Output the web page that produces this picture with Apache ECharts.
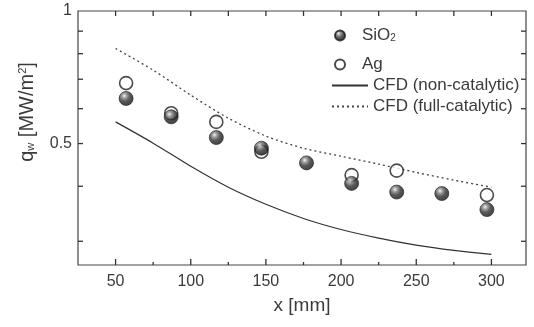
<!DOCTYPE html>
<html>
<head>
<meta charset="utf-8">
<script src="https://cdn.jsdelivr.net/npm/echarts@6/dist/echarts.min.js"></script>
<style>html,body{margin:0;padding:0;background:#fff;}#c{width:534px;height:327px;}</style>
</head>
<body>
<div id="c"></div>
<script>
// ---- data ----
const xTicksMajor = [50, 100, 150, 200, 250, 300];
const xTicksMinor = [75, 125, 175, 225, 275];
const yTicks = [0.9, 0.8, 0.7, 0.6, 0.5, 0.4, 0.3];
const yLabels = [1, 0.5];

const sio2X = [57, 87, 117, 147, 177, 207, 237, 267, 297];
const sio2Y = [0.633, 0.575, 0.516, 0.488, 0.452, 0.406, 0.388, 0.385, 0.354];
const agX = [57, 87, 117, 147, 207, 237, 297];
const agY = [0.686, 0.586, 0.560, 0.479, 0.424, 0.434, 0.382];
const cfdX = [50, 75, 100, 125, 150, 175, 200, 225, 250, 275, 300];
const cfdNonCat = [0.560, 0.501, 0.444, 0.398, 0.364, 0.338, 0.319, 0.305, 0.294, 0.286, 0.280];
const cfdFullCat = [0.822, 0.734, 0.644, 0.571, 0.520, 0.488, 0.468, 0.449, 0.430, 0.413, 0.398];

const X_MIN = 25, X_MAX = 323, Y_MIN = 0.265, Y_MAX = 1;

const FONT = '"Liberation Sans", Arial, sans-serif';
const TXT = '#3a3a3a';
const AX = '#333';

const zip = (xs, ys) => xs.map((x, i) => [x, ys[i]]);

const chart = echarts.init(document.getElementById('c'));
const sphere = {
  type: 'radial', x: 0.38, y: 0.32, r: 0.7,
  colorStops: [
    {offset: 0, color: '#f2f2f2'},
    {offset: 0.22, color: '#8a8a8a'},
    {offset: 0.55, color: '#2e2e2e'},
    {offset: 1, color: '#111'}
  ]
};

const yTitle = {
  id: 'ytitle', type: 'text', x: 27, y: 112, rotation: Math.PI / 2,
  style: {
    text: 'q{sub|w} [MW/m{sup|2}]', fill: TXT, font: '20px ' + FONT,
    textAlign: 'center', textVerticalAlign: 'middle',
    rich: {
      sub: {fontSize: 11, fontFamily: FONT, fill: TXT, padding: [8, 0, 0, 0]},
      sup: {fontSize: 11, fontFamily: FONT, fill: TXT, padding: [0, 0, 9, 0]}
    }
  }
};

chart.setOption({
  animation: false,
  grid: {left: 78, right: 8, top: 11, bottom: 62, show: true, borderColor: '#444', borderWidth: 1.2,
    backgroundColor: 'transparent'},
  xAxis: {type: 'value', min: X_MIN, max: X_MAX,
    axisLine: {show: false}, splitLine: {show: false}, axisTick: {show: false},
    axisLabel: {show: true, customValues: xTicksMajor, fontSize: 16, color: TXT, margin: 9, fontFamily: FONT},
    name: 'x [mm]', nameLocation: 'middle', nameGap: 31,
    nameTextStyle: {fontSize: 19, color: TXT, fontFamily: FONT}},
  yAxis: {type: 'log', logBase: 10, min: Y_MIN, max: Y_MAX,
    axisLine: {show: false}, splitLine: {show: false}, axisTick: {show: false},
    axisLabel: {show: true, customValues: yLabels, fontSize: 16, color: TXT, margin: 6, fontFamily: FONT,
      formatter: v => String(+(+v).toFixed(2))}},
  legend: [
    {data: ['SiO2', 'Ag'], orient: 'vertical', left: 329, top: 22, itemWidth: 34, itemHeight: 10,
      itemGap: 12, selectedMode: false,
      formatter: n => n === 'SiO2' ? 'SiO{sub|2}' : n,
      textStyle: {fontSize: 17, color: TXT, fontFamily: FONT, lineHeight: 16,
        rich: {sub: {fontSize: 10, color: TXT, fontFamily: FONT, verticalAlign: 'bottom', lineHeight: 10, padding: [6, 0, 0, 0]}}}},
    {data: ['CFD (non-catalytic)', 'CFD (full-catalytic)'], orient: 'vertical', left: 326, top: 72,
      itemWidth: 36, itemHeight: 10, itemGap: 4, selectedMode: false,
      itemStyle: {color: 'rgba(0,0,0,0)', borderColor: 'rgba(0,0,0,0)', borderWidth: 0},
      textStyle: {fontSize: 17, color: TXT, fontFamily: FONT, lineHeight: 16}}
  ],
  graphic: [yTitle],
  series: [
    {name: 'CFD (non-catalytic)', type: 'line', data: zip(cfdX, cfdNonCat), smooth: 0.3,
      showSymbol: false, symbol: 'none', lineStyle: {color: '#333', width: 1.2}, itemStyle: {color: '#333'}, z: 2},
    {name: 'CFD (full-catalytic)', type: 'line', data: zip(cfdX, cfdFullCat), smooth: 0.3,
      showSymbol: false, symbol: 'none', lineStyle: {color: '#444', width: 1.3, type: [2, 3]}, itemStyle: {color: '#444'}, z: 2},
    {name: 'Ag', type: 'scatter', data: zip(agX, agY), symbol: 'circle', symbolSize: 13,
      itemStyle: {color: '#fff', borderColor: '#1e1e1e', borderWidth: 1.6}, z: 3},
    {name: 'SiO2', type: 'scatter', data: zip(sio2X, sio2Y), symbol: 'circle', symbolSize: 14,
      itemStyle: {color: sphere, borderColor: '#1a1a1a', borderWidth: 0.8}, z: 4}
  ]
});

// tick marks on all four sides, positioned through the axes' own scales
const bl = chart.convertToPixel({gridIndex: 0}, [X_MIN, Y_MIN]);
const tr = chart.convertToPixel({gridIndex: 0}, [X_MAX, Y_MAX]);
const ticks = [];
const seg = (id, x1, y1, x2, y2) => ticks.push({
  id: id, type: 'line', z: 50, silent: true,
  shape: {x1: x1, y1: y1, x2: x2, y2: y2}, style: {stroke: AX, lineWidth: 1.3}
});
xTicksMajor.forEach((v, i) => {
  const x = chart.convertToPixel({xAxisIndex: 0}, v);
  seg('xb' + i, x, bl[1], x, bl[1] - 6);
  seg('xt' + i, x, tr[1], x, tr[1] + 5);
});
xTicksMinor.forEach((v, i) => {
  const x = chart.convertToPixel({xAxisIndex: 0}, v);
  seg('mb' + i, x, bl[1], x, bl[1] - 3);
  seg('mt' + i, x, tr[1], x, tr[1] + 5);
});
yTicks.forEach((v, i) => {
  const y = chart.convertToPixel({yAxisIndex: 0}, v);
  seg('yl' + i, bl[0], y, bl[0] + 5, y);
  seg('yr' + i, tr[0], y, tr[0] - 5, y);
});
chart.setOption({graphic: [yTitle].concat(ticks)});
</script>
</body>
</html>
